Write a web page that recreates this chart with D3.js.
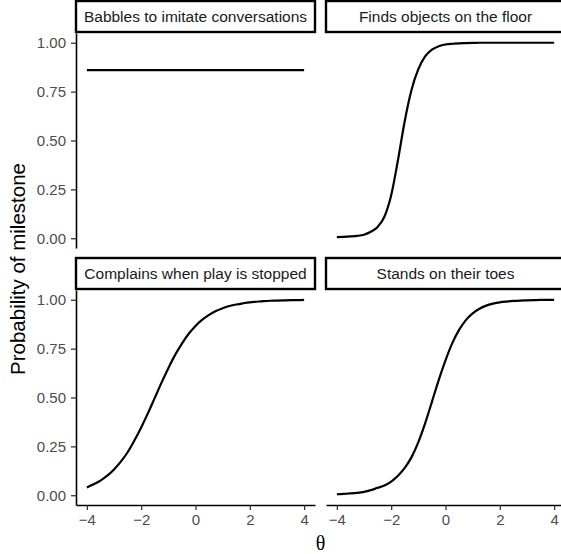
<!DOCTYPE html>
<meta charset="utf-8">
<script src="https://d3js.org/d3.v7.min.js"></script>
<style>
body { margin: 0; background: white; }
.tick text { fill: #4D4D4D; font-family: "Liberation Sans", Arial, sans-serif; font-size: 15px; }
.tick line { stroke: #333333; stroke-width: 1.3px; }
.domain { stroke: black; stroke-width: 1.6px; }
</style>
<div id="my_dataviz"></div>
<script>

// facet titles, in facet order (top-left, top-right, bottom-left, bottom-right)
var facetTitles = ["Babbles to imitate conversations", "Finds objects on the floor",
                   "Complains when play is stopped", "Stands on their toes"];

// theta grid the curves were read at
var theta = [-4, -3.75, -3.5, -3.25, -3, -2.75, -2.5, -2.25, -2, -1.75, -1.5, -1.25, -1, -0.75, -0.5, -0.25,
             0, 0.25, 0.5, 0.75, 1, 1.25, 1.5, 1.75, 2, 2.25, 2.5, 2.75, 3, 3.25, 3.5, 3.75, 4];

// probability of milestone
var babbles = [0.86, 0.86, 0.86, 0.86, 0.86, 0.86, 0.86, 0.86, 0.86, 0.86, 0.86, 0.86, 0.86, 0.86, 0.86, 0.86,
               0.86, 0.86, 0.86, 0.86, 0.86, 0.86, 0.86, 0.86, 0.86, 0.86, 0.86, 0.86, 0.86, 0.86, 0.86, 0.86, 0.86];
var findsObjects = [0.006, 0.007, 0.009, 0.012, 0.018, 0.033, 0.058, 0.11, 0.22, 0.4, 0.6, 0.76, 0.865, 0.93, 0.965, 0.982,
                    0.991, 0.995, 0.997, 0.998, 0.999, 1, 1, 1, 1, 1, 1, 1, 1, 1, 1, 1, 1];
var complains = [0.04, 0.056, 0.075, 0.1, 0.132, 0.172, 0.22, 0.28, 0.347, 0.42, 0.498, 0.576, 0.65, 0.718, 0.776, 0.826,
                 0.866, 0.898, 0.923, 0.942, 0.957, 0.968, 0.976, 0.982, 0.987, 0.99, 0.993, 0.995, 0.996, 0.997, 0.998, 0.998, 0.999];
var standsToes = [0.005, 0.007, 0.009, 0.012, 0.017, 0.026, 0.038, 0.05, 0.07, 0.1, 0.14, 0.195, 0.272, 0.368, 0.478, 0.589,
                  0.69, 0.778, 0.846, 0.896, 0.93, 0.954, 0.97, 0.98, 0.987, 0.991, 0.994, 0.996, 0.997, 0.998, 0.999, 0.999, 0.999];

var xTicks = [-4, -2, 0, 2, 4];
var yTicks = [0, 0.25, 0.5, 0.75, 1];

var series = [babbles, findsObjects, complains, standsToes];

// panel geometry (ggplot facet_wrap, 2 x 2)
var panelW = 239, panelH = 215, stripH = 31;
var colX = [76, 326];
var rowY = [33, 290];

var svg = d3.select("#my_dataviz")
  .append("svg")
    .attr("width", 561)
    .attr("height", 554);

// scales shared by all panels (5% expansion like ggplot)
var x = d3.scaleLinear()
  .domain([-4.4, 4.4])
  .range([0, panelW]);
var y = d3.scaleLinear()
  .domain([-0.05, 1.05])
  .range([panelH, 0]);

var line = d3.line()
  .x(function(d) { return x(d[0]); })
  .y(function(d) { return y(d[1]); })
  .curve(d3.curveMonotoneX);

series.forEach(function(vals, i) {
  var col = i % 2, row = Math.floor(i / 2);
  var g = svg.append("g")
    .attr("transform", "translate(" + colX[col] + "," + rowY[row] + ")");

  // strip
  g.append("rect")
    .attr("x", 0)
    .attr("y", -stripH - 1)
    .attr("width", panelW)
    .attr("height", stripH)
    .attr("fill", "white")
    .attr("stroke", "black")
    .attr("stroke-width", 2.4);
  g.append("text")
    .attr("x", panelW / 2)
    .attr("y", -stripH / 2 - 1)
    .attr("dy", "0.35em")
    .attr("text-anchor", "middle")
    .style("font-family", "Liberation Sans, Arial, sans-serif")
    .style("font-size", "15.5px")
    .style("fill", "#1A1A1A")
    .text(facetTitles[i]);

  // y axis only on left column
  if (col === 0) {
    g.append("g")
      .call(d3.axisLeft(y).tickValues(yTicks).tickFormat(d3.format(".2f")).tickSize(5).tickSizeOuter(0).tickPadding(5));
  }
  // x axis only on bottom row
  if (row === 1) {
    g.append("g")
      .attr("transform", "translate(0," + panelH + ")")
      .call(d3.axisBottom(x).tickValues(xTicks).tickFormat(d3.format("d")).tickSize(5).tickSizeOuter(0).tickPadding(4));
  }

  g.append("path")
    .datum(theta.map(function(t, j) { return [t, vals[j]]; }))
    .attr("fill", "none")
    .attr("stroke", "black")
    .attr("stroke-width", 2.2)
    .attr("d", line);
});

// axis titles
svg.append("text")
  .attr("transform", "translate(18," + (rowY[0] + (rowY[1] + panelH - rowY[0]) / 2) + ") rotate(-90)")
  .attr("dy", "0.35em")
  .attr("text-anchor", "middle")
  .style("font-family", "Liberation Sans, Arial, sans-serif")
  .style("font-size", "20.5px")
  .text("Probability of milestone");

svg.append("text")
  .attr("x", (colX[0] + colX[1] + panelW) / 2)
  .attr("y", 543)
  .attr("dy", "0.35em")
  .attr("text-anchor", "middle")
  .style("font-family", "Liberation Serif, serif")
  .style("font-size", "20px")
  .text("θ");

</script>
